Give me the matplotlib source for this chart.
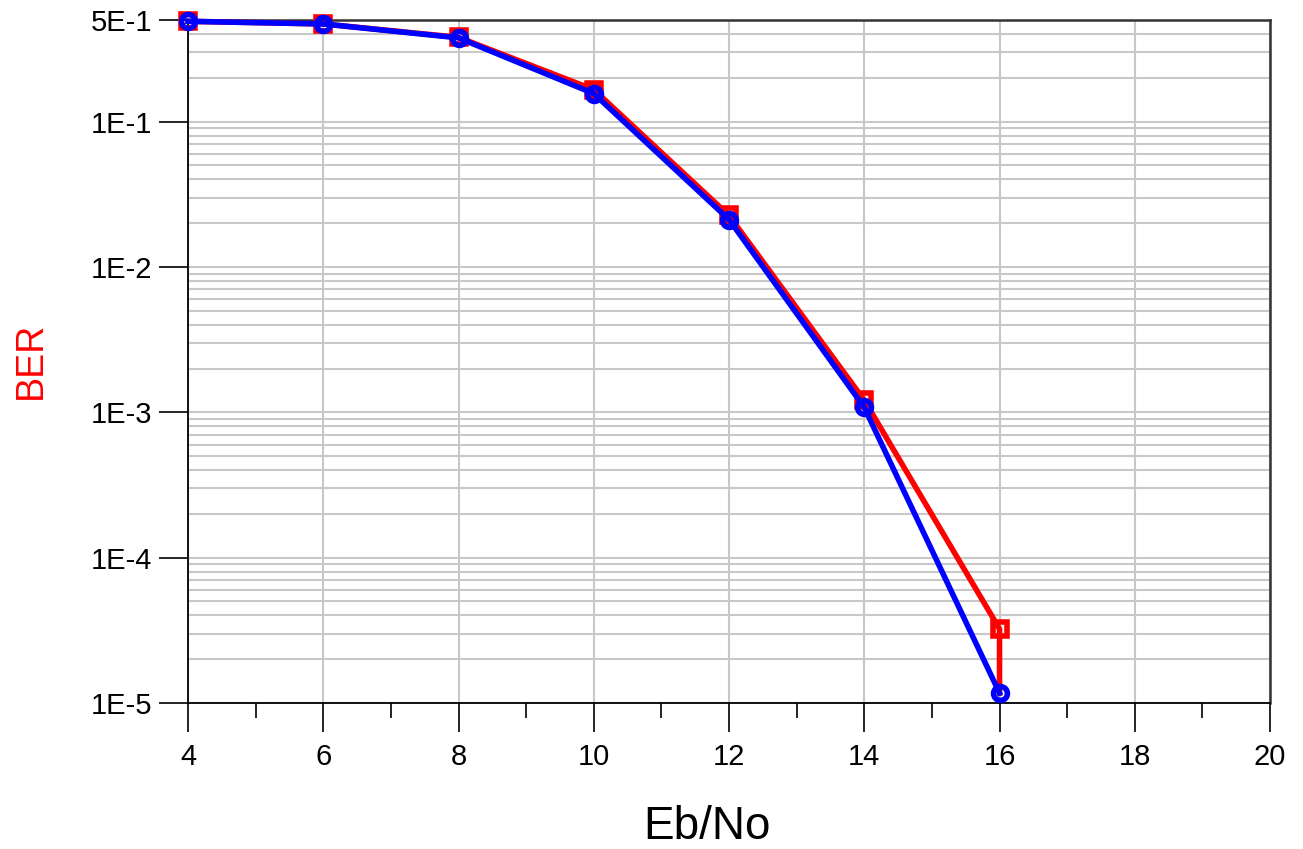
import numpy as np
import matplotlib
matplotlib.use("Agg")
import matplotlib.pyplot as plt
from matplotlib.ticker import FixedLocator, NullFormatter, LogLocator

plt.rcParams['font.family'] = ['Liberation Sans', 'DejaVu Sans']

# Eb/No (dB) and measured BER
ebno_red = [4, 6, 8, 10, 12, 14, 16, 16]
ber_red = [0.49, 0.47, 0.38, 0.166, 0.0226, 0.00121, 3.23e-5, 1.17e-5]
ebno_blue = [4, 6, 8, 10, 12, 14, 16]
ber_blue = [0.49, 0.47, 0.377, 0.156, 0.0212, 0.00108, 1.17e-5]

yticks = [1e-5, 1e-4, 1e-3, 1e-2, 1e-1, 5e-1]
ytick_labels = ["1E-5", "1E-4", "1E-3", "1E-2", "1E-1", "5E-1"]
xticks = [4, 6, 8, 10, 12, 14, 16, 18, 20]

fig = plt.figure(figsize=(13.03, 8.49), dpi=100)
ax = fig.add_axes([0.1443, 0.172, 0.8304, 0.8044])

# last red point only carries the line down, no marker
ax.plot(ebno_red, ber_red, color="red", lw=4, marker="s", ms=10,
        mfc="none", mew=4, zorder=3, clip_on=False,
        markevery=list(range(len(ebno_red) - 1)))
ax.plot(ebno_blue, ber_blue, color="blue", lw=4, marker="o", ms=10,
        mfc="none", mew=4, zorder=4, clip_on=False)

ax.set_yscale("log")
ax.set_xlim(4, 20)
ax.set_ylim(1e-5, 0.5)

ax.yaxis.set_major_locator(FixedLocator(yticks))
ax.set_yticklabels(ytick_labels)
ax.yaxis.set_minor_locator(LogLocator(base=10, subs=np.arange(2, 10)))
ax.yaxis.set_minor_formatter(NullFormatter())
ax.set_xticks(xticks)
ax.set_xticks(np.arange(5, 20, 2), minor=True)

ax.grid(True, which="major", color="#c8c8c8", lw=1.5)
ax.grid(True, which="minor", axis="y", color="#c8c8c8", lw=1.5)
ax.set_axisbelow(True)

ax.tick_params(axis="both", which="major", direction="out", length=21,
               width=1.2, labelsize=21, color="black")
ax.tick_params(axis="x", which="major", pad=8)
ax.tick_params(axis="y", which="major", pad=5)
ax.tick_params(axis="x", which="minor", direction="out", length=11, width=1.2)
ax.tick_params(axis="y", which="minor", length=0)

for s in ["left", "bottom"]:
    ax.spines[s].set_color("black")
    ax.spines[s].set_linewidth(1.3)
for s in ["top", "right"]:
    ax.spines[s].set_color("#333333")
    ax.spines[s].set_linewidth(1.8)

fig.text(0.0238, 0.575, "BER", color="red", fontsize=27, rotation=90,
         ha="center", va="center")
fig.text(0.5426, 0.026, "Eb/No", color="black", fontsize=33,
         ha="center", va="center")

fig.savefig("out.png", dpi=100)
